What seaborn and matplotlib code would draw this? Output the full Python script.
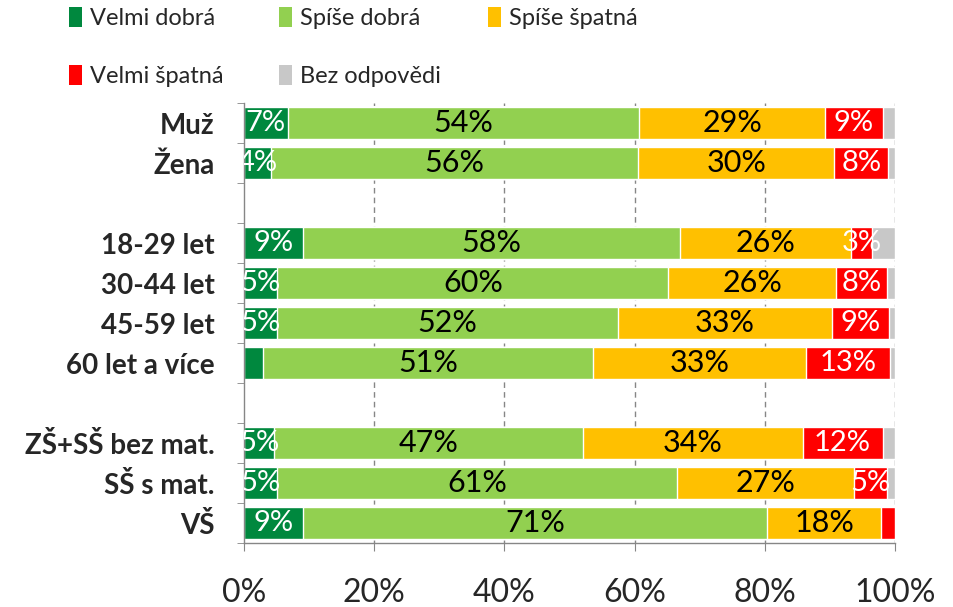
import matplotlib
matplotlib.use("Agg")
import matplotlib.pyplot as plt
from matplotlib.patches import Patch
import seaborn as sns
import numpy as np
import pandas as pd

sns.set_style("white")
plt.rcParams['font.family'] = ['Lato', 'DejaVu Sans']

categories = ["Muž", "Žena", "", "18-29 let", "30-44 let", "45-59 let", "60 let a více",
              " ", "ZŠ+SŠ bez mat.", "SŠ s mat.", "VŠ"]
series = ["Velmi dobrá", "Spíše dobrá", "Spíše špatná", "Velmi špatná", "Bez odpovědi"]

velmi_dobra = [6.7, 4.2, 0, 9.1, 5.1, 5.1, 2.9, 0, 4.6, 5.1, 9.1]
spise_dobra = [54.0, 56.3, 0, 57.8, 60.1, 52.4, 50.7, 0, 47.4, 61.4, 71.3]
spise_spatna = [28.6, 30.2, 0, 26.4, 25.8, 32.8, 32.8, 0, 33.8, 27.2, 17.5]
velmi_spatna = [8.8, 8.3, 0, 3.2, 7.7, 8.8, 12.8, 0, 12.3, 5.0, 2.1]
bez_odpovedi = [1.9, 1.0, 0, 3.5, 1.3, 0.9, 0.8, 0, 1.9, 1.3, 0.0]

colors = ["#00883E", "#92D050", "#FFC000", "#FF0000", "#C8C8C8"]
label_colors = ["white", "black", "black", "white", None]

df = pd.DataFrame({"kat": categories, "Velmi dobrá": velmi_dobra, "Spíše dobrá": spise_dobra,
                   "Spíše špatná": spise_spatna, "Velmi špatná": velmi_spatna,
                   "Bez odpovědi": bez_odpovedi})
cum = df[series].cumsum(axis=1)

fig = plt.figure(figsize=(9.54, 6.07), dpi=100)
ax = fig.add_axes([244 / 954, 1 - 543 / 607, (895 - 244) / 954, 440 / 607])

# stacked bars: draw the cumulative totals from the last series back to the first
for i in range(len(series) - 1, -1, -1):
    sns.barplot(x=cum[series[i]], y=df["kat"], order=categories, orient="h",
                color=colors[i], saturation=1, width=0.78, ax=ax, zorder=2)

for i, s in enumerate(series):
    if label_colors[i] is None:
        continue
    for j, v in enumerate(df[s]):
        if v < 3:
            continue
        xc = cum[s][j] - v / 2
        size = 22 if label_colors[i] == "black" else 21
        ax.text(xc, j, f"{v:.0f}%", ha="center", va="center", color=label_colors[i],
                fontsize=size, clip_on=True, zorder=5)

ax.set_xlim(0, 100)
ax.set_ylim(10.5, -0.5)
ax.set_xticks([0, 20, 40, 60, 80, 100])
ax.set_xticklabels(["0%", "20%", "40%", "60%", "80%", "100%"], fontsize=23)
ax.set_xlabel("")
ax.set_ylabel("")
ax.set_yticks(range(len(categories)))
ax.set_yticklabels(categories, fontsize=20, fontweight="bold")
ax.set_yticks(np.arange(-0.5, 11, 1), minor=True)
ax.tick_params(axis="y", which="major", length=0, pad=21)
ax.tick_params(axis="y", which="minor", length=5, color="#868686", direction="out", left=True)
ax.tick_params(axis="x", length=6, color="#868686", direction="out", bottom=True, pad=19)

for xg in [20, 40, 60, 80, 100]:
    ax.axvline(xg, color="#868686", linestyle=(0, (4, 3)), linewidth=1, zorder=0)

for sp in ["top", "right"]:
    ax.spines[sp].set_visible(False)
for sp in ["left", "bottom"]:
    ax.spines[sp].set_color("#868686")
    ax.spines[sp].set_linewidth(1)

# legend entries sit on a fixed grid of three columns, two rows
for k, name in enumerate(series):
    row, col = divmod(k, 3)
    fig.legend([Patch(facecolor=colors[k], edgecolor="none")], [name], loc="center left",
               bbox_to_anchor=((62 + 209.5 * col) / 954, 1 - (18 + 58 * row) / 607),
               frameon=False, fontsize=17, handlelength=0.55, handleheight=0.9,
               handletextpad=0.35, borderpad=0, borderaxespad=0.3)

fig.savefig("out.png", dpi=100)
